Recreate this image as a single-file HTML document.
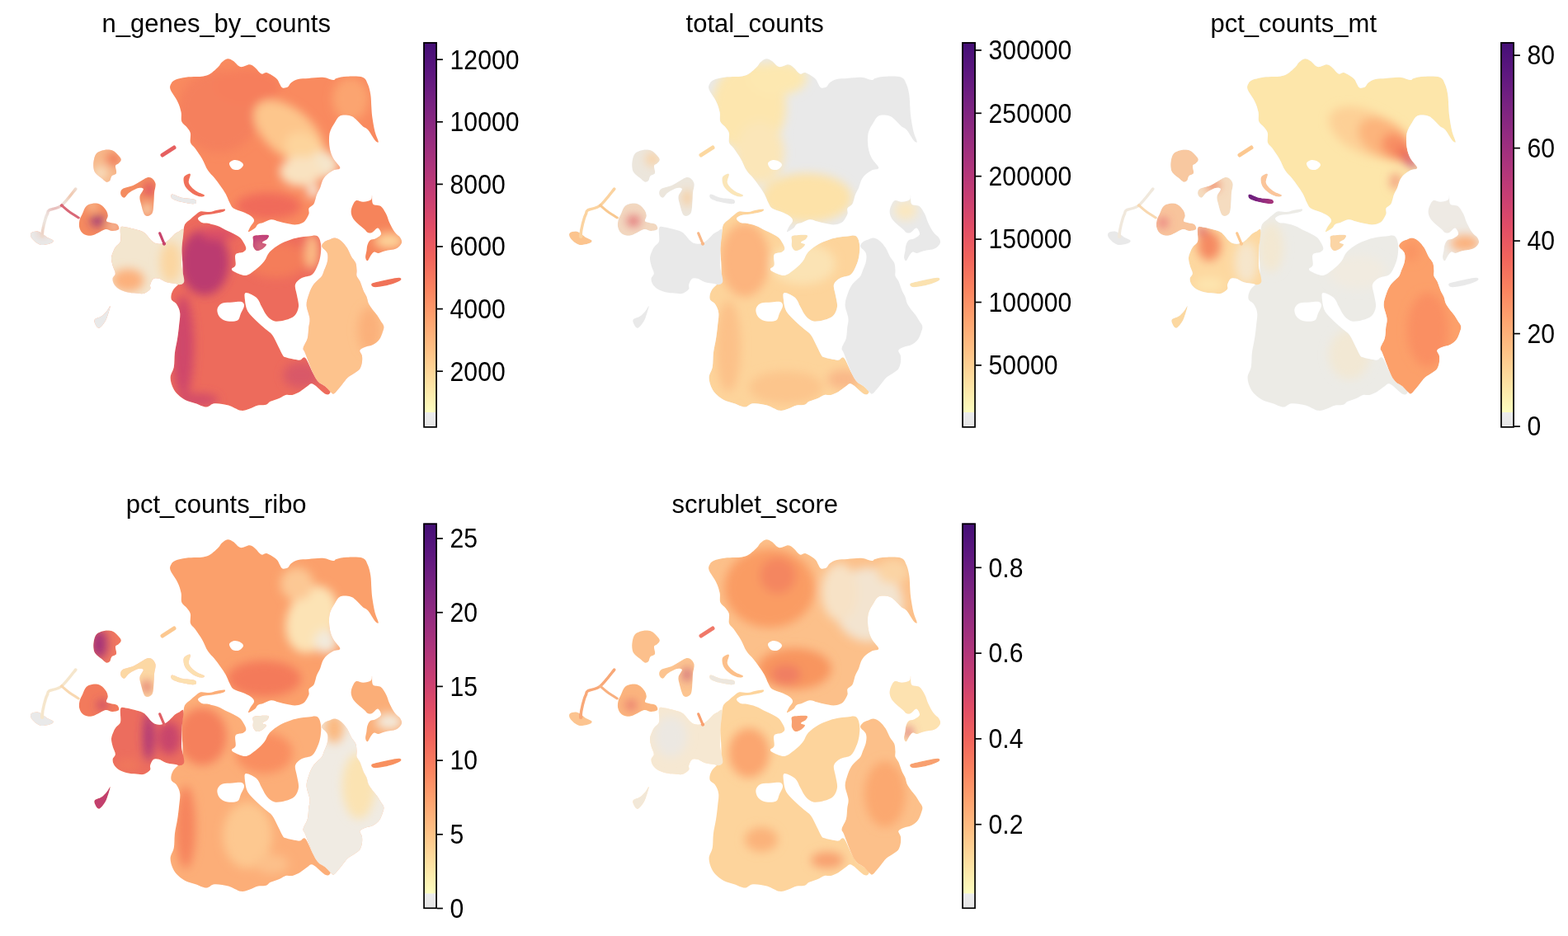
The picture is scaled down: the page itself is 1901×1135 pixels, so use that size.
<!DOCTYPE html><html><head><meta charset="utf-8"><style>html,body{margin:0;padding:0;background:#fff;width:1901px;height:1135px;overflow:hidden}svg{display:block}text{font-family:"Liberation Sans",Arial,sans-serif;fill:#000}</style></head><body>
<svg width="1901" height="1135" viewBox="0 0 1901 1135">
<defs>
<linearGradient id="cm" x1="0" y1="1" x2="0" y2="0"><stop offset="0.000" stop-color="#fcfdbf"/><stop offset="0.083" stop-color="#fde0a1"/><stop offset="0.167" stop-color="#fec185"/><stop offset="0.250" stop-color="#fea36f"/><stop offset="0.333" stop-color="#fb835f"/><stop offset="0.417" stop-color="#f2645c"/><stop offset="0.500" stop-color="#e24d66"/><stop offset="0.583" stop-color="#c83e73"/><stop offset="0.667" stop-color="#ad347c"/><stop offset="0.750" stop-color="#932b80"/><stop offset="0.833" stop-color="#782281"/><stop offset="0.917" stop-color="#5d177f"/><stop offset="1.000" stop-color="#440f76"/></linearGradient>
<linearGradient id="gr" x1="0" y1="1" x2="0" y2="0"><stop offset="0" stop-color="#e6e6e6"/><stop offset="1" stop-color="#ececec"/></linearGradient>
<path id="pT" d="M206.6,108.6 C205.3,104.9 206.6,103.2 207.6,101.2 C208.6,99.2 209.7,97.9 212.6,96.7 C215.5,95.5 221.0,94.4 225.2,93.8 C229.4,93.2 234.4,93.3 237.9,93.1 C241.4,92.9 243.6,93.0 246.4,92.4 C249.2,91.8 251.8,91.5 254.8,89.6 C257.9,87.7 262.4,83.4 264.7,81.1 C267.0,78.8 267.0,77.1 268.9,75.5 C270.8,73.9 273.6,71.5 276.0,71.3 C278.4,71.1 280.4,72.5 283.0,74.1 C285.6,75.7 288.2,80.4 291.5,81.1 C294.8,81.8 299.8,78.0 302.8,78.3 C305.9,78.5 307.5,80.7 309.8,82.6 C312.1,84.5 314.5,88.7 316.9,89.6 C319.2,90.5 320.8,87.3 323.9,88.2 C326.9,89.1 332.6,92.9 335.2,95.2 C337.8,97.5 338.2,100.4 339.4,102.3 C340.6,104.2 340.9,106.0 342.5,106.5 C344.1,107.0 347.1,106.5 348.8,105.5 C350.6,104.5 350.9,101.8 353.0,100.2 C355.1,98.6 358.0,96.9 361.5,96.0 C365.0,95.1 369.3,95.3 374.2,94.9 C379.1,94.5 386.2,93.5 391.1,93.8 C396.0,94.1 401.0,96.8 403.8,97.0 C406.6,97.2 405.2,95.6 408.0,94.9 C410.8,94.2 415.4,93.0 420.7,92.8 C426.0,92.6 435.5,92.2 439.7,93.8 C443.9,95.4 444.4,98.8 446.0,102.3 C447.6,105.8 448.6,110.4 449.3,115.0 C450.0,119.6 450.0,125.2 450.3,129.8 C450.6,134.4 450.7,137.6 451.4,142.5 C452.1,147.4 453.3,154.5 454.5,159.4 C455.7,164.3 458.8,170.2 458.8,172.0 C458.8,173.8 456.6,172.4 454.5,170.0 C452.4,167.6 448.5,160.1 446.0,157.3 C443.5,154.5 442.1,155.1 439.7,153.0 C437.2,150.9 433.8,146.7 431.3,144.6 C428.9,142.5 428.2,141.1 425.0,140.4 C421.8,139.7 415.5,139.0 412.3,140.4 C409.1,141.8 408.0,145.3 405.9,148.8 C403.8,152.3 400.7,156.6 399.6,161.5 C398.6,166.4 398.9,173.3 399.6,178.4 C400.3,183.5 401.9,187.8 404.0,192.0 C406.1,196.2 412.3,201.1 412.3,203.5 C412.3,205.9 406.7,205.1 404.0,206.5 C401.3,207.9 398.2,209.9 396.0,212.0 C393.8,214.1 392.3,216.3 391.0,219.0 C389.7,221.7 389.2,225.2 388.0,228.0 C386.8,230.8 385.0,233.5 384.0,236.0 C383.0,238.5 382.7,241.0 382.0,243.0 C381.3,245.0 381.2,246.4 380.0,248.0 C378.8,249.6 375.4,250.6 374.5,252.5 C373.6,254.4 375.2,256.8 374.5,259.3 C373.8,261.8 371.5,265.5 370.0,267.4 C368.5,269.3 367.5,269.9 365.4,270.8 C363.3,271.7 360.5,272.5 357.4,272.5 C354.3,272.5 350.2,271.5 347.0,270.8 C343.8,270.1 340.9,269.3 337.9,268.5 C334.8,267.7 331.8,266.0 328.7,266.2 C325.6,266.4 322.3,268.7 319.6,269.7 C316.9,270.7 314.4,270.9 312.7,272.0 C311.0,273.1 311.2,275.0 309.3,276.5 C307.4,278.0 302.2,281.4 301.2,281.1 C300.2,280.9 302.4,277.3 303.5,275.0 C304.6,272.7 308.1,269.6 308.1,267.4 C308.1,265.2 305.8,263.3 303.5,261.6 C301.2,259.9 297.8,258.5 294.4,257.0 C291.0,255.5 285.6,254.4 282.9,252.5 C280.2,250.6 279.8,248.5 278.3,245.6 C276.8,242.7 275.6,238.7 273.7,235.3 C271.8,231.9 269.2,228.2 266.9,225.0 C264.6,221.8 262.5,218.9 260.0,215.8 C257.5,212.7 254.5,210.5 252.0,206.6 C249.5,202.7 247.6,197.0 245.0,192.5 C242.4,188.0 238.8,183.1 236.5,179.8 C234.2,176.5 231.8,175.9 230.9,172.8 C230.0,169.8 231.6,164.6 230.9,161.5 C230.2,158.4 228.5,156.8 226.7,154.4 C224.9,152.1 221.5,150.5 220.3,147.4 C219.1,144.3 220.4,140.1 219.6,136.1 C218.8,132.1 217.6,128.0 215.4,123.4 C213.2,118.8 207.9,112.3 206.6,108.6Z"/><clipPath id="cT"><use href="#pT"/></clipPath><path id="pMB" d="M224.5,271.5 C225.9,269.1 228.6,267.7 230.7,265.9 C232.8,264.1 234.9,262.2 237.0,260.6 C239.1,259.0 240.6,256.9 243.4,256.3 C246.2,255.7 250.8,257.3 253.9,257.1 C257.0,256.9 259.1,255.6 262.0,255.0 C264.9,254.4 269.6,253.7 271.4,253.6 C273.2,253.5 273.2,253.9 273.0,254.5 C272.8,255.1 272.8,256.1 270.0,257.0 C267.2,257.9 260.0,259.1 256.0,259.8 C252.0,260.5 248.7,260.1 246.0,261.0 C243.3,261.9 240.2,263.5 240.0,265.0 C239.8,266.5 243.2,269.1 245.0,270.0 C246.8,270.9 247.6,270.0 250.7,270.6 C253.8,271.2 259.2,272.2 263.4,273.8 C267.6,275.4 271.9,278.0 276.1,280.1 C280.3,282.2 285.9,284.6 288.8,286.5 C291.7,288.4 292.0,288.8 293.6,291.2 C295.2,293.6 298.1,298.3 298.3,300.7 C298.6,303.1 297.2,304.2 295.1,305.5 C293.0,306.8 287.2,306.1 285.6,308.7 C284.0,311.3 286.4,318.5 285.6,321.4 C284.8,324.3 281.0,324.7 280.9,326.1 C280.8,327.5 282.1,328.7 285.0,330.0 C287.9,331.3 294.0,334.6 298.3,334.0 C302.6,333.4 307.3,329.0 311.0,326.1 C314.7,323.2 317.9,320.0 320.5,316.6 C323.1,313.2 323.7,308.9 326.9,305.5 C330.1,302.1 335.6,298.4 339.5,296.0 C343.4,293.6 346.9,292.5 350.6,291.2 C354.3,289.9 357.7,288.9 361.7,288.1 C365.7,287.3 370.5,286.8 374.4,286.5 C378.2,286.2 382.4,284.7 384.8,286.3 C387.2,287.9 388.4,292.1 389.0,296.0 C389.6,299.9 389.2,305.7 388.5,310.0 C387.8,314.3 386.7,318.2 385.0,322.0 C383.3,325.8 381.6,330.4 378.4,332.9 C375.2,335.4 369.4,335.0 366.0,337.0 C362.6,339.0 359.0,341.5 358.0,345.0 C357.0,348.5 359.3,353.5 360.0,358.0 C360.7,362.5 362.5,367.8 362.0,372.0 C361.5,376.2 359.7,380.3 357.0,383.0 C354.3,385.7 350.0,386.9 346.0,388.0 C342.0,389.1 336.7,390.3 333.0,389.5 C329.3,388.7 326.3,385.9 323.7,383.0 C321.1,380.1 319.5,376.0 317.4,372.3 C315.3,368.6 314.2,363.9 311.0,361.0 C307.8,358.1 300.3,354.5 298.0,355.0 C295.7,355.5 296.6,360.2 297.0,364.0 C297.4,367.8 298.1,373.4 300.4,377.6 C302.7,381.8 307.5,385.7 311.0,389.2 C314.5,392.7 318.4,395.9 321.6,398.7 C324.8,401.5 327.4,402.5 330.0,406.0 C332.6,409.5 335.3,415.8 337.4,419.9 C339.5,424.0 341.3,428.2 342.7,430.4 C344.1,432.6 343.6,432.2 345.5,433.0 C347.4,433.8 351.4,434.7 354.4,435.3 C357.4,435.9 361.0,436.8 363.6,436.6 C366.2,436.4 367.6,431.4 370.2,434.0 C372.8,436.6 376.9,447.7 379.5,452.5 C382.1,457.3 383.7,460.4 386.1,463.0 C388.5,465.6 391.6,466.3 394.0,468.3 C396.4,470.3 400.4,473.4 400.6,475.0 C400.8,476.6 398.5,479.6 395.0,478.0 C391.5,476.4 383.2,467.3 379.5,465.7 C375.8,464.1 375.4,466.8 372.8,468.3 C370.2,469.9 366.7,473.2 363.6,475.0 C360.5,476.8 357.3,478.2 354.4,478.9 C351.5,479.5 349.0,478.2 346.4,478.9 C343.8,479.6 341.6,481.6 338.5,482.9 C335.4,484.2 330.5,485.5 327.9,486.8 C325.2,488.1 325.1,490.0 322.6,490.8 C320.1,491.6 316.3,490.7 312.9,491.5 C309.5,492.3 305.8,494.6 302.3,495.7 C298.8,496.8 295.9,498.5 291.7,497.8 C287.5,497.1 282.3,492.9 277.0,491.5 C271.7,490.1 264.5,488.9 260.0,489.3 C255.5,489.7 253.8,493.6 250.0,493.6 C246.2,493.6 241.4,490.7 237.2,489.3 C232.9,487.9 228.0,486.8 224.5,485.0 C221.0,483.2 218.5,481.2 216.0,478.8 C213.5,476.4 211.3,473.8 209.7,470.3 C208.1,466.8 206.4,461.8 206.6,457.6 C206.8,453.4 209.9,449.9 210.8,445.0 C211.7,440.1 211.2,433.7 211.9,428.0 C212.6,422.3 214.1,416.6 215.0,411.0 C215.9,405.4 216.6,399.5 217.1,394.2 C217.6,388.9 218.7,383.6 218.2,379.4 C217.7,375.2 215.8,371.6 214.0,368.8 C212.2,366.0 208.3,365.3 207.6,362.5 C206.9,359.7 207.6,355.8 209.7,351.9 C211.8,348.0 218.4,344.1 220.3,339.2 C222.2,334.3 221.4,328.7 221.4,322.3 C221.4,315.9 220.1,308.1 220.3,301.0 C220.5,293.9 221.7,284.9 222.4,280.0 C223.1,275.1 223.1,273.9 224.5,271.5Z"/><clipPath id="cMB"><use href="#pMB"/></clipPath><path id="pRb" d="M392.9,293.7 C394.2,292.4 395.9,292.0 398.1,291.1 C400.3,290.2 403.5,288.2 406.1,288.4 C408.8,288.6 411.6,290.4 414.0,292.4 C416.4,294.4 418.6,297.2 420.6,300.3 C422.6,303.4 424.1,307.8 425.9,310.9 C427.7,314.0 430.1,315.9 431.2,318.8 C432.3,321.7 432.3,325.5 432.5,328.1 C432.7,330.8 431.8,332.5 432.5,334.7 C433.2,336.9 435.2,338.4 436.5,341.3 C437.8,344.2 439.1,348.8 440.4,351.9 C441.7,355.0 443.3,357.1 444.4,359.8 C445.5,362.5 445.5,365.3 446.8,368.0 C448.1,370.7 450.3,373.5 452.1,375.9 C453.9,378.3 455.8,380.3 457.4,382.5 C458.9,384.7 460.1,386.9 461.4,389.1 C462.7,391.3 464.9,393.5 465.3,395.7 C465.7,397.9 464.9,399.7 464.0,402.3 C463.1,404.9 462.0,408.9 460.0,411.5 C458.0,414.1 455.0,416.6 452.1,418.1 C449.2,419.7 445.5,419.7 442.9,420.8 C440.3,421.9 437.0,422.9 436.3,424.7 C435.6,426.4 438.5,428.9 438.9,431.3 C439.3,433.7 439.3,436.7 438.9,439.3 C438.5,441.9 437.8,445.0 436.3,447.2 C434.8,449.4 432.1,450.7 429.7,452.5 C427.3,454.3 424.1,455.6 421.7,457.8 C419.3,460.0 417.1,463.3 415.1,465.7 C413.1,468.1 411.6,470.3 409.8,472.3 C408.1,474.3 406.1,477.2 404.6,477.6 C403.1,478.1 402.4,476.6 400.6,475.0 C398.8,473.4 396.4,470.3 394.0,468.3 C391.6,466.3 388.5,465.6 386.1,463.0 C383.7,460.4 382.1,458.2 379.5,452.5 C376.9,446.8 372.2,433.8 370.2,428.7 C368.2,423.6 367.2,425.2 367.6,422.1 C368.0,419.0 371.7,414.4 372.8,410.2 C373.9,406.0 373.8,401.0 374.2,397.0 C374.6,393.0 375.9,390.9 375.5,386.4 C375.1,381.9 371.8,374.9 371.6,370.0 C371.4,365.1 373.3,360.9 374.4,357.2 C375.5,353.5 376.8,350.5 378.3,347.9 C379.8,345.2 381.6,343.5 383.6,341.3 C385.6,339.1 388.6,336.9 390.2,334.7 C391.8,332.5 391.8,331.0 392.9,328.1 C394.0,325.2 396.1,321.0 396.8,317.5 C397.5,314.0 397.9,310.0 396.8,306.9 C395.7,303.8 390.9,301.2 390.2,299.0 C389.5,296.8 391.6,295.0 392.9,293.7Z"/><clipPath id="cRb"><use href="#pRb"/></clipPath><path id="pR" d="M425.9,254.1 C426.6,250.8 428.8,245.1 431.2,243.5 C433.6,241.9 437.3,245.0 440.4,244.8 C443.5,244.6 447.9,243.5 449.7,242.2 C451.5,240.9 450.6,236.0 451.0,236.9 C451.4,237.8 450.5,245.3 452.3,247.5 C454.1,249.7 459.0,248.1 461.6,250.1 C464.2,252.1 466.4,256.1 468.2,259.4 C470.0,262.7 470.4,266.2 472.2,269.9 C474.0,273.6 476.6,278.7 478.8,281.8 C481.0,284.9 484.1,286.2 485.4,288.4 C486.7,290.6 487.6,292.8 486.7,295.0 C485.8,297.2 483.4,300.1 480.1,301.6 C476.8,303.2 470.4,303.4 466.9,304.3 C463.4,305.2 461.1,306.7 458.9,306.9 C456.7,307.1 455.2,305.2 453.7,305.6 C452.2,306.1 451.0,307.8 449.7,309.6 C448.4,311.4 446.8,315.8 445.7,316.2 C444.6,316.6 443.3,314.2 443.1,312.2 C442.9,310.2 444.0,306.8 444.4,304.3 C444.8,301.8 444.7,299.2 445.5,297.0 C446.3,294.8 447.4,292.2 449.0,291.0 C450.6,289.8 452.8,290.7 455.0,289.5 C457.2,288.3 461.5,286.2 462.0,284.0 C462.5,281.8 459.8,276.8 458.0,276.5 C456.2,276.2 453.0,281.1 451.0,282.0 C449.0,282.9 447.5,282.7 446.0,282.0 C444.5,281.3 443.8,279.7 441.8,277.9 C439.8,276.1 436.2,273.7 433.8,271.3 C431.4,268.9 428.5,266.2 427.2,263.3 C425.9,260.4 425.2,257.4 425.9,254.1Z"/><clipPath id="cR"><use href="#pR"/></clipPath><path id="pD" d="M450.5,344.0 C451.5,342.9 455.3,342.4 458.9,341.5 C462.5,340.6 468.0,339.3 472.2,338.5 C476.4,337.7 481.7,336.6 484.0,336.8 C486.3,337.0 487.0,338.4 486.0,339.5 C485.0,340.6 481.4,342.3 478.0,343.5 C474.6,344.7 469.7,346.1 465.5,346.8 C461.3,347.6 455.5,348.5 453.0,348.0 C450.5,347.5 449.5,345.1 450.5,344.0Z"/><clipPath id="cD"><use href="#pD"/></clipPath><path id="pG" d="M146.1,276.4 C147.2,273.6 149.8,275.2 152.5,275.4 C155.2,275.6 158.7,276.6 162.0,277.5 C165.3,278.4 169.9,279.5 172.6,280.7 C175.2,281.9 176.0,283.0 177.9,284.9 C179.8,286.8 182.1,290.5 184.2,292.3 C186.3,294.1 188.1,295.1 190.6,295.5 C193.1,295.9 196.5,295.3 199.0,294.4 C201.5,293.5 203.3,292.0 205.4,290.2 C207.5,288.4 209.8,285.4 211.7,283.8 C213.6,282.2 215.2,281.5 217.0,280.7 C218.8,279.9 221.8,275.6 222.4,279.0 C223.0,282.4 220.7,295.3 220.3,301.0 C219.9,306.7 220.2,309.6 220.2,313.4 C220.2,317.2 219.7,319.4 220.2,324.0 C220.7,328.6 223.7,337.4 223.3,340.9 C222.9,344.4 219.8,344.7 218.0,345.2 C216.2,345.7 214.9,344.5 212.8,344.1 C210.7,343.7 207.7,343.5 205.4,343.0 C203.1,342.5 201.1,341.8 199.0,340.9 C196.9,340.0 194.8,338.3 192.7,337.8 C190.6,337.3 188.1,336.6 186.3,337.8 C184.5,339.0 182.8,343.1 182.1,345.2 C181.4,347.3 183.3,348.6 182.1,350.4 C180.9,352.1 177.2,354.8 174.7,355.7 C172.2,356.6 170.3,355.9 167.3,355.7 C164.3,355.5 160.2,355.4 156.7,354.7 C153.2,354.0 149.1,353.1 146.1,351.5 C143.1,349.9 140.3,347.5 138.7,345.2 C137.1,342.9 136.4,340.1 136.6,337.8 C136.8,335.5 139.8,334.0 139.8,331.4 C139.8,328.8 137.4,325.1 136.6,321.9 C135.8,318.7 134.8,315.4 135.0,312.4 C135.2,309.4 136.7,306.2 137.7,303.9 C138.7,301.6 139.5,300.5 140.9,298.6 C142.3,296.7 145.2,296.0 146.1,292.3 C147.0,288.6 145.0,279.2 146.1,276.4Z"/><clipPath id="cG"><use href="#pG"/></clipPath><path id="pA" d="M117.0,186.0 C119.1,183.8 123.0,182.6 126.2,182.0 C129.4,181.4 133.4,181.3 136.5,182.6 C139.6,183.8 142.8,187.6 144.5,189.5 C146.2,191.4 147.0,192.5 146.8,194.0 C146.6,195.5 144.5,197.4 143.4,198.6 C142.3,199.8 140.4,199.1 140.0,201.0 C139.6,202.9 141.8,207.9 141.0,210.0 C140.2,212.1 136.7,211.9 135.4,213.5 C134.1,215.1 134.2,218.2 133.0,219.3 C131.8,220.5 130.2,221.0 128.5,220.4 C126.8,219.8 124.9,217.5 122.8,215.8 C120.7,214.1 117.5,211.9 116.0,210.0 C114.5,208.1 114.0,206.9 113.6,204.4 C113.2,201.9 113.0,198.3 113.6,195.2 C114.2,192.1 114.9,188.2 117.0,186.0Z"/><clipPath id="cA"><use href="#pA"/></clipPath><path id="pB2" d="M104.4,250.2 C106.5,248.1 109.6,247.1 112.5,246.7 C115.4,246.3 118.9,246.6 121.6,247.9 C124.3,249.2 127.0,252.5 128.5,254.8 C130.0,257.1 130.7,259.4 130.8,261.6 C130.9,263.8 128.5,266.6 129.0,268.0 C129.5,269.4 131.8,269.3 134.0,270.0 C136.2,270.7 140.3,270.7 142.0,272.0 C143.7,273.3 145.0,276.7 144.0,278.0 C143.0,279.3 138.7,280.0 136.0,280.0 C133.3,280.0 130.8,277.6 128.0,278.0 C125.2,278.4 122.3,280.9 119.3,282.2 C116.3,283.5 113.2,285.5 110.2,285.7 C107.2,285.9 103.3,284.9 101.0,283.4 C98.7,281.9 97.2,279.2 96.4,276.5 C95.6,273.8 95.8,270.3 96.4,267.4 C97.0,264.5 98.6,262.2 99.9,259.3 C101.2,256.4 102.3,252.3 104.4,250.2Z"/><clipPath id="cB2"><use href="#pB2"/></clipPath><path id="pL" d="M146.3,235.5 C146.0,233.8 145.9,230.9 148.4,229.2 C150.9,227.4 157.5,226.5 161.1,225.0 C164.7,223.5 167.2,221.6 170.0,220.0 C172.8,218.4 175.7,216.1 178.0,215.4 C180.3,214.7 182.2,214.8 184.0,216.0 C185.8,217.2 188.1,219.8 188.6,222.8 C189.1,225.8 187.3,230.5 187.0,234.0 C186.7,237.5 186.9,239.9 186.5,244.0 C186.1,248.1 186.2,256.0 184.4,258.8 C182.6,261.6 178.2,263.1 175.9,261.0 C173.6,258.9 171.7,249.9 170.6,246.0 C169.5,242.1 169.1,240.4 169.6,237.6 C170.1,234.8 174.1,230.8 173.8,229.2 C173.5,227.6 170.8,227.3 168.0,228.0 C165.2,228.7 159.8,231.5 156.9,233.4 C154.0,235.3 152.3,239.3 150.5,239.7 C148.7,240.0 146.7,237.2 146.3,235.5Z"/><clipPath id="cL"><use href="#pL"/></clipPath><path id="pArc" d="M225.6,212.3 C227.0,211.4 230.3,209.6 230.9,211.2 C231.5,212.8 227.9,218.7 229.0,222.0 C230.1,225.3 234.1,228.9 237.2,231.3 C240.3,233.7 246.7,235.4 247.8,236.6 C248.9,237.8 246.1,239.0 243.6,238.6 C241.1,238.2 236.2,236.5 233.0,234.4 C229.8,232.3 226.2,229.0 224.5,226.0 C222.8,223.0 222.3,218.8 222.5,216.5 C222.7,214.2 224.2,213.2 225.6,212.3Z"/><clipPath id="cArc"><use href="#pArc"/></clipPath><path id="pGD" d="M208.7,235.5 C210.6,235.3 215.7,238.6 220.3,239.7 C224.9,240.8 233.6,240.7 236.2,241.9 C238.8,243.1 238.7,246.6 236.0,247.1 C233.3,247.6 224.9,246.1 220.3,245.0 C215.8,243.9 210.6,242.3 208.7,240.7 C206.8,239.1 206.8,235.7 208.7,235.5Z"/><clipPath id="cGD"><use href="#pGD"/></clipPath><path id="pGB" d="M38.0,282.2 C39.5,281.0 44.0,280.0 47.2,281.0 C50.5,282.0 54.6,286.3 57.5,288.0 C60.4,289.7 63.7,290.3 64.4,291.4 C65.2,292.5 64.1,293.9 62.0,294.8 C59.9,295.8 54.6,297.1 51.8,297.1 C48.9,297.1 47.2,296.3 44.9,294.8 C42.6,293.3 39.1,290.1 38.0,288.0 C36.9,285.9 36.5,283.4 38.0,282.2Z"/><clipPath id="cGB"><use href="#pGB"/></clipPath><path id="pGS" d="M133.6,371.0 C133.2,370.6 131.2,375.2 129.4,377.3 C127.6,379.4 125.5,381.9 123.0,383.6 C120.5,385.4 115.6,385.9 114.6,387.8 C113.5,389.7 115.7,393.6 116.7,395.2 C117.8,396.8 119.1,398.3 120.9,397.4 C122.7,396.5 125.5,393.0 127.3,390.0 C129.1,387.0 130.4,382.6 131.5,379.4 C132.6,376.2 133.9,371.4 133.6,371.0Z"/><clipPath id="cGS"><use href="#pGS"/></clipPath><path id="pPB" d="M307.0,286.5 C308.3,285.3 311.9,285.2 315.0,285.0 C318.1,284.8 324.0,284.5 325.5,285.3 C327.0,286.1 325.2,288.6 324.0,290.0 C322.8,291.4 318.2,292.9 318.0,294.0 C317.8,295.1 323.0,295.2 323.0,296.5 C323.0,297.8 320.0,300.8 318.0,302.0 C316.0,303.2 312.8,304.5 311.0,304.0 C309.2,303.5 307.7,301.0 307.0,299.0 C306.3,297.0 307.0,294.1 307.0,292.0 C307.0,289.9 305.7,287.7 307.0,286.5Z"/><clipPath id="cPB"><use href="#pPB"/></clipPath><path id="lbr1" d="M91.8,229.0 C89.0,232.3 80.0,244.7 74.7,249.0 C69.4,253.3 62.7,253.1 59.8,254.8 C56.9,256.5 58.3,257.6 57.5,259.3 C56.7,261.0 56.2,261.8 55.2,265.0 C54.2,268.2 52.5,275.2 51.8,278.8 C51.1,282.4 51.3,285.5 51.2,286.8" fill="none" stroke-linecap="round" stroke-linejoin="round"/><path id="lbr2" d="M74.7,249.0 C76.1,250.2 79.6,253.5 83.0,256.0 C86.4,258.5 93.2,262.7 95.3,264.0" fill="none" stroke-linecap="round" stroke-linejoin="round"/><path id="ltd" d="M197.0,188.0 L211.0,179.0" fill="none" stroke-linecap="round" stroke-linejoin="round"/><path id="lpd" d="M193.7,282.8 L199.0,295.5" fill="none" stroke-linecap="round" stroke-linejoin="round"/><filter id="mb" filterUnits="userSpaceOnUse" x="0" y="0" width="653" height="583"><feGaussianBlur stdDeviation="0.7"/></filter><mask id="um" maskUnits="userSpaceOnUse" x="0" y="0" width="653" height="583"><g filter="url(#mb)"><use href="#pT" fill="#fff"/><use href="#pMB" fill="#fff"/><use href="#pRb" fill="#fff"/><use href="#pR" fill="#fff"/><use href="#pD" fill="#fff"/><use href="#pG" fill="#fff"/><use href="#pA" fill="#fff"/><use href="#pB2" fill="#fff"/><use href="#pL" fill="#fff"/><use href="#pArc" fill="#fff"/><use href="#pGD" fill="#fff"/><use href="#pGB" fill="#fff"/><use href="#pGS" fill="#fff"/><use href="#pPB" fill="#fff"/><use href="#lbr1" stroke="#fff" stroke-width="3.5"/><use href="#lbr2" stroke="#fff" stroke-width="3.0"/><use href="#ltd" stroke="#fff" stroke-width="5.0"/><use href="#lpd" stroke="#fff" stroke-width="3.2"/><path d="M264.0,373.0 C265.0,370.9 267.0,368.6 270.0,367.5 C273.0,366.4 278.2,366.8 282.0,366.5 C285.8,366.2 290.7,365.2 293.0,366.0 C295.3,366.8 296.2,368.7 296.0,371.0 C295.8,373.3 293.3,377.1 292.0,380.0 C290.7,382.9 290.7,386.9 288.0,388.5 C285.3,390.1 279.3,389.9 276.0,389.5 C272.7,389.1 270.0,387.6 268.0,386.0 C266.0,384.4 264.7,382.2 264.0,380.0 C263.3,377.8 263.0,375.1 264.0,373.0Z" fill="#000"/><path d="M278.0,198.0 C278.3,196.2 281.8,194.4 284.0,194.0 C286.2,193.6 289.2,194.5 291.0,195.5 C292.8,196.5 295.2,198.3 295.0,200.0 C294.8,201.7 292.2,204.7 290.0,205.5 C287.8,206.3 284.0,206.2 282.0,205.0 C280.0,203.8 277.7,199.8 278.0,198.0Z" fill="#000"/></g></mask><filter id="bl" filterUnits="userSpaceOnUse" x="-20" y="-20" width="700" height="620"><feGaussianBlur stdDeviation="6"/></filter>
</defs>
<g transform="translate(0.0,0.0)">
<g transform="translate(0,-0.0)"><g mask="url(#um)"><rect x="0" y="0" width="653" height="583" fill="#f98f62"/><use href="#pT" fill="#f98a5f"/><g clip-path="url(#cT)"><g filter="url(#bl)"><ellipse cx="265" cy="135" rx="50" ry="50" fill="#f5805d"/><ellipse cx="300" cy="105" rx="40" ry="22" fill="#f67e5c"/><ellipse cx="425" cy="120" rx="22" ry="26" fill="#fba470"/><ellipse cx="350" cy="160" rx="50" ry="28" fill="#fdc68c" transform="rotate(40 350 160)"/><ellipse cx="372" cy="185" rx="30" ry="20" fill="#fdd49c" transform="rotate(40 372 185)"/><ellipse cx="392" cy="200" rx="18" ry="16" fill="#f5e6cc"/><ellipse cx="365" cy="208" rx="26" ry="18" fill="#f9e2c0"/><ellipse cx="380" cy="232" rx="8" ry="8" fill="#f6e8d6"/><ellipse cx="325" cy="250" rx="40" ry="16" fill="#f06b5a"/></g></g><use href="#pMB" fill="#ed6b5c"/><g clip-path="url(#cMB)"><g filter="url(#bl)"><ellipse cx="248" cy="318" rx="30" ry="40" fill="#bb3b70"/><ellipse cx="265" cy="283" rx="22" ry="8" fill="#dc5066"/><ellipse cx="222" cy="420" rx="13" ry="62" fill="#cf466a"/><ellipse cx="240" cy="485" rx="25" ry="8" fill="#d24c69"/><ellipse cx="335" cy="315" rx="38" ry="22" fill="#f47d5a"/><ellipse cx="378" cy="305" rx="8" ry="22" fill="#fcc088"/><ellipse cx="365" cy="455" rx="22" ry="16" fill="#d95868"/></g></g><use href="#pRb" fill="#fdc38d"/><g clip-path="url(#cRb)"><g filter="url(#bl)"><ellipse cx="448" cy="400" rx="14" ry="28" fill="#fbb07a"/></g></g><use href="#pR" fill="#f6845b"/><g clip-path="url(#cR)"><g filter="url(#bl)"><ellipse cx="472" cy="292" rx="18" ry="10" fill="#fdd39a"/></g></g><use href="#pD" fill="#f07258"/><use href="#pG" fill="#f3e6cf"/><g clip-path="url(#cG)"><g filter="url(#bl)"><ellipse cx="155" cy="340" rx="20" ry="14" fill="#fcb07c"/><ellipse cx="207" cy="318" rx="13" ry="25" fill="#fbd6a0"/></g></g><use href="#pA" fill="#f7b88a"/><g clip-path="url(#cA)"><g filter="url(#bl)"><ellipse cx="138" cy="193" rx="9" ry="9" fill="#f07a58"/><ellipse cx="122" cy="210" rx="9" ry="8" fill="#f8e2c4"/></g></g><use href="#pB2" fill="#f58a5f"/><g clip-path="url(#cB2)"><g filter="url(#bl)"><ellipse cx="118" cy="268" rx="8" ry="6" fill="#8a2a80"/><ellipse cx="112" cy="250" rx="8" ry="4" fill="#fbd8a8"/><ellipse cx="138" cy="275" rx="6" ry="5" fill="#f4e6d2"/></g></g><use href="#pL" fill="#f48c60"/><g clip-path="url(#cL)"><g filter="url(#bl)"><ellipse cx="181" cy="230" rx="6" ry="9" fill="#dc4e62"/><ellipse cx="178" cy="254" rx="7" ry="7" fill="#f8e2c0"/></g></g><use href="#pArc" fill="#f0705a"/><use href="#pGD" fill="#e9e9e9"/><use href="#pGB" fill="#e9e9e9"/><use href="#pGS" fill="#e9e9e9"/><use href="#pPB" fill="#c0407a"/><g clip-path="url(#cPB)"><g filter="url(#bl)"><ellipse cx="316" cy="299" rx="6" ry="4" fill="#fcb884"/></g></g><use href="#lbr1" stroke="#ece6e0" stroke-width="4.5"/><use href="#lbr2" stroke="#d86878" stroke-width="4.0"/><use href="#ltd" stroke="#e66060" stroke-width="6.0"/><use href="#lpd" stroke="#c8446c" stroke-width="4.2"/><g filter="url(#bl)"><ellipse cx="86" cy="236" rx="5" ry="7" fill="#f8a070"/><ellipse cx="66" cy="252" rx="6" ry="4" fill="#e06068"/><ellipse cx="52" cy="281" rx="3" ry="5" fill="#f08a60"/></g></g></g>
<text x="262.2" y="38.9" font-size="31" text-anchor="middle">n_genes_by_counts</text>
<rect x="513.2" y="499.7" width="16.699999999999932" height="19.000000000000057" fill="url(#gr)"/>
<rect x="513.2" y="51.1" width="16.699999999999932" height="448.9" fill="url(#cm)"/>
<rect x="514.0500000000001" y="51.95" width="14.999999999999932" height="465.90000000000003" fill="none" stroke="#000" stroke-width="1.7"/>
<line x1="529.9" y1="450.2" x2="536.9" y2="450.2" stroke="#000" stroke-width="1.7"/>
<text x="0" y="0" font-size="32.8" transform="translate(545.6,461.5) scale(0.92,1)">2000</text>
<line x1="529.9" y1="374.6" x2="536.9" y2="374.6" stroke="#000" stroke-width="1.7"/>
<text x="0" y="0" font-size="32.8" transform="translate(545.6,385.9) scale(0.92,1)">4000</text>
<line x1="529.9" y1="299.0" x2="536.9" y2="299.0" stroke="#000" stroke-width="1.7"/>
<text x="0" y="0" font-size="32.8" transform="translate(545.6,310.3) scale(0.92,1)">6000</text>
<line x1="529.9" y1="223.4" x2="536.9" y2="223.4" stroke="#000" stroke-width="1.7"/>
<text x="0" y="0" font-size="32.8" transform="translate(545.6,234.7) scale(0.92,1)">8000</text>
<line x1="529.9" y1="147.8" x2="536.9" y2="147.8" stroke="#000" stroke-width="1.7"/>
<text x="0" y="0" font-size="32.8" transform="translate(545.6,159.1) scale(0.92,1)">10000</text>
<line x1="529.9" y1="72.2" x2="536.9" y2="72.2" stroke="#000" stroke-width="1.7"/>
<text x="0" y="0" font-size="32.8" transform="translate(545.6,83.5) scale(0.92,1)">12000</text>
</g>
<g transform="translate(653.0,0.0)">
<g transform="translate(0,-0.0)"><g mask="url(#um)"><rect x="0" y="0" width="653" height="583" fill="#e9e9e9"/><use href="#pT" fill="#e9e9e9"/><g clip-path="url(#cT)"><g filter="url(#bl)"><ellipse cx="255" cy="130" rx="45" ry="55" fill="#fde6ae"/><ellipse cx="290" cy="95" rx="35" ry="20" fill="#fde8b0"/><ellipse cx="268" cy="185" rx="30" ry="38" fill="#fbe6b8"/><ellipse cx="325" cy="240" rx="55" ry="30" fill="#fde2a8"/><ellipse cx="450" cy="262" rx="20" ry="15" fill="#fbe6bc"/></g></g><use href="#pMB" fill="#fdd49b"/><g clip-path="url(#cMB)"><g filter="url(#bl)"><ellipse cx="250" cy="315" rx="30" ry="45" fill="#fcb47e"/><ellipse cx="230" cy="420" rx="15" ry="55" fill="#fcc189"/><ellipse cx="320" cy="320" rx="40" ry="25" fill="#fbe3b4"/><ellipse cx="300" cy="470" rx="45" ry="20" fill="#fcc58c"/><ellipse cx="370" cy="460" rx="20" ry="12" fill="#f9b888"/></g></g><use href="#pRb" fill="#e9e9e9"/><use href="#pR" fill="#e9e9e9"/><g clip-path="url(#cR)"><g filter="url(#bl)"><ellipse cx="445" cy="255" rx="14" ry="12" fill="#fbe8c0"/></g></g><use href="#pD" fill="#fbe2b0"/><use href="#pG" fill="#e9e9e9"/><use href="#pA" fill="#ece6dc"/><g clip-path="url(#cA)"><g filter="url(#bl)"><ellipse cx="138" cy="193" rx="8" ry="8" fill="#fbd0a0"/></g></g><use href="#pB2" fill="#f2d8c0"/><g clip-path="url(#cB2)"><g filter="url(#bl)"><ellipse cx="115" cy="268" rx="8" ry="6" fill="#e06068"/></g></g><use href="#pL" fill="#ece6dc"/><g clip-path="url(#cL)"><g filter="url(#bl)"><ellipse cx="180" cy="240" rx="5" ry="10" fill="#fbc890"/></g></g><use href="#pArc" fill="#fbe6b8"/><use href="#pGD" fill="#e9e9e9"/><use href="#pGB" fill="#fcc48e"/><use href="#pGS" fill="#e9e9e9"/><use href="#pPB" fill="#fbe0b0"/><use href="#lbr1" stroke="#fbd3a0" stroke-width="4.5"/><use href="#lbr2" stroke="#f8c890" stroke-width="4.0"/><use href="#ltd" stroke="#fcd8a0" stroke-width="6.0"/><use href="#lpd" stroke="#f8b888" stroke-width="4.2"/></g></g>
<text x="262.2" y="38.9" font-size="31" text-anchor="middle">total_counts</text>
<rect x="513.2" y="499.7" width="16.699999999999932" height="19.000000000000057" fill="url(#gr)"/>
<rect x="513.2" y="51.1" width="16.699999999999932" height="448.9" fill="url(#cm)"/>
<rect x="514.0500000000001" y="51.95" width="14.999999999999932" height="465.90000000000003" fill="none" stroke="#000" stroke-width="1.7"/>
<line x1="529.9" y1="442.9" x2="536.9" y2="442.9" stroke="#000" stroke-width="1.7"/>
<text x="0" y="0" font-size="32.8" transform="translate(545.6,454.2) scale(0.92,1)">50000</text>
<line x1="529.9" y1="366.5" x2="536.9" y2="366.5" stroke="#000" stroke-width="1.7"/>
<text x="0" y="0" font-size="32.8" transform="translate(545.6,377.8) scale(0.92,1)">100000</text>
<line x1="529.9" y1="290.1" x2="536.9" y2="290.1" stroke="#000" stroke-width="1.7"/>
<text x="0" y="0" font-size="32.8" transform="translate(545.6,301.4) scale(0.92,1)">150000</text>
<line x1="529.9" y1="213.7" x2="536.9" y2="213.7" stroke="#000" stroke-width="1.7"/>
<text x="0" y="0" font-size="32.8" transform="translate(545.6,225.0) scale(0.92,1)">200000</text>
<line x1="529.9" y1="137.3" x2="536.9" y2="137.3" stroke="#000" stroke-width="1.7"/>
<text x="0" y="0" font-size="32.8" transform="translate(545.6,148.6) scale(0.92,1)">250000</text>
<line x1="529.9" y1="60.9" x2="536.9" y2="60.9" stroke="#000" stroke-width="1.7"/>
<text x="0" y="0" font-size="32.8" transform="translate(545.6,72.2) scale(0.92,1)">300000</text>
</g>
<g transform="translate(1306.0,0.0)">
<g transform="translate(0,-0.0)"><g mask="url(#um)"><rect x="0" y="0" width="653" height="583" fill="#e9e9e9"/><use href="#pT" fill="#fde6aa"/><g clip-path="url(#cT)"><g filter="url(#bl)"><ellipse cx="350" cy="160" rx="48" ry="26" fill="#fdd096" transform="rotate(25 350 160)"/><ellipse cx="372" cy="168" rx="34" ry="22" fill="#fcb47c" transform="rotate(30 372 168)"/><ellipse cx="388" cy="178" rx="20" ry="15" fill="#f88e64" transform="rotate(30 388 178)"/><ellipse cx="396" cy="186" rx="10" ry="9" fill="#f07458"/><ellipse cx="403" cy="194" rx="7" ry="6" fill="#d24c6a"/><ellipse cx="409" cy="201" rx="4" ry="3" fill="#9a2d7e"/><ellipse cx="386" cy="220" rx="7" ry="10" fill="#f3a080"/></g></g><use href="#pMB" fill="#ecebe6"/><g clip-path="url(#cMB)"><g filter="url(#bl)"><ellipse cx="235" cy="300" rx="15" ry="30" fill="#f3e8d2"/><ellipse cx="340" cy="330" rx="35" ry="20" fill="#f1ebe0"/><ellipse cx="330" cy="430" rx="25" ry="30" fill="#f2e8d4"/></g></g><use href="#pRb" fill="#fca06a"/><g clip-path="url(#cRb)"><g filter="url(#bl)"><ellipse cx="425" cy="400" rx="25" ry="45" fill="#fa8f62"/><ellipse cx="405" cy="305" rx="10" ry="12" fill="#fa9464"/></g></g><use href="#pR" fill="#eeeae4"/><g clip-path="url(#cR)"><g filter="url(#bl)"><ellipse cx="470" cy="295" rx="18" ry="10" fill="#fcb07a"/></g></g><use href="#pD" fill="#e9e9e9"/><use href="#pG" fill="#fdd8a0"/><g clip-path="url(#cG)"><g filter="url(#bl)"><ellipse cx="160" cy="298" rx="14" ry="18" fill="#f58a62"/><ellipse cx="151" cy="280" rx="6" ry="5" fill="#d24c6a"/><ellipse cx="160" cy="345" rx="18" ry="8" fill="#fde6b0"/><ellipse cx="205" cy="318" rx="14" ry="26" fill="#f6e6cc"/></g></g><use href="#pA" fill="#f8c8a0"/><use href="#pB2" fill="#f8c49c"/><g clip-path="url(#cB2)"><g filter="url(#bl)"><ellipse cx="104" cy="270" rx="5" ry="5" fill="#e0506a"/></g></g><use href="#pL" fill="#f5dcc0"/><g clip-path="url(#cL)"><g filter="url(#bl)"><ellipse cx="165" cy="225" rx="8" ry="6" fill="#f07a58"/></g></g><use href="#pArc" fill="#fbc59a"/><use href="#pGB" fill="#e9e9e9"/><use href="#pGS" fill="#fcd8a0"/><use href="#pGD" fill="#8c2981"/><g clip-path="url(#cGD)"><g filter="url(#bl)"><ellipse cx="212" cy="237" rx="8" ry="6" fill="#4f1379"/><ellipse cx="236" cy="244" rx="6" ry="6" fill="#c8426e"/></g></g><use href="#pPB" fill="#fbd5a5"/><use href="#lbr1" stroke="#f0e8dc" stroke-width="4.5"/><use href="#lbr2" stroke="#f8d8b0" stroke-width="4.0"/><use href="#ltd" stroke="#fcc890" stroke-width="6.0"/><use href="#lpd" stroke="#fcc890" stroke-width="4.2"/></g></g>
<text x="262.2" y="38.9" font-size="31" text-anchor="middle">pct_counts_mt</text>
<rect x="513.2" y="499.7" width="16.699999999999932" height="19.000000000000057" fill="url(#gr)"/>
<rect x="513.2" y="51.1" width="16.699999999999932" height="448.9" fill="url(#cm)"/>
<rect x="514.0500000000001" y="51.95" width="14.999999999999932" height="465.90000000000003" fill="none" stroke="#000" stroke-width="1.7"/>
<line x1="529.9" y1="517.1" x2="536.9" y2="517.1" stroke="#000" stroke-width="1.7"/>
<text x="0" y="0" font-size="32.8" transform="translate(545.6,528.4) scale(0.92,1)">0</text>
<line x1="529.9" y1="404.6" x2="536.9" y2="404.6" stroke="#000" stroke-width="1.7"/>
<text x="0" y="0" font-size="32.8" transform="translate(545.6,415.9) scale(0.92,1)">20</text>
<line x1="529.9" y1="292.1" x2="536.9" y2="292.1" stroke="#000" stroke-width="1.7"/>
<text x="0" y="0" font-size="32.8" transform="translate(545.6,303.4) scale(0.92,1)">40</text>
<line x1="529.9" y1="179.6" x2="536.9" y2="179.6" stroke="#000" stroke-width="1.7"/>
<text x="0" y="0" font-size="32.8" transform="translate(545.6,190.9) scale(0.92,1)">60</text>
<line x1="529.9" y1="67.1" x2="536.9" y2="67.1" stroke="#000" stroke-width="1.7"/>
<text x="0" y="0" font-size="32.8" transform="translate(545.6,78.4) scale(0.92,1)">80</text>
</g>
<g transform="translate(0.0,583.4)">
<g transform="translate(0,-0.4)"><g mask="url(#um)"><rect x="0" y="0" width="653" height="583" fill="#fca46c"/><use href="#pT" fill="#fba06b"/><g clip-path="url(#cT)"><g filter="url(#bl)"><ellipse cx="320" cy="240" rx="45" ry="22" fill="#f47a5a"/><ellipse cx="378" cy="168" rx="30" ry="42" fill="#fce3b5" transform="rotate(20 378 168)"/><ellipse cx="395" cy="195" rx="14" ry="14" fill="#f2eadc"/><ellipse cx="360" cy="125" rx="20" ry="20" fill="#fcc894"/></g></g><use href="#pMB" fill="#fcae78"/><g clip-path="url(#cMB)"><g filter="url(#bl)"><ellipse cx="245" cy="310" rx="30" ry="35" fill="#f5805c"/><ellipse cx="225" cy="420" rx="12" ry="50" fill="#f6845d"/><ellipse cx="320" cy="330" rx="35" ry="25" fill="#f98e60"/><ellipse cx="300" cy="430" rx="30" ry="40" fill="#fdc890"/><ellipse cx="330" cy="465" rx="20" ry="12" fill="#fcc08a"/></g></g><use href="#pRb" fill="#f0ebe3"/><g clip-path="url(#cRb)"><g filter="url(#bl)"><ellipse cx="435" cy="370" rx="20" ry="40" fill="#fbe3b2"/><ellipse cx="405" cy="300" rx="12" ry="18" fill="#fbb981"/></g></g><use href="#pR" fill="#fbae78"/><g clip-path="url(#cR)"><g filter="url(#bl)"><ellipse cx="472" cy="292" rx="16" ry="10" fill="#f3eadc"/></g></g><use href="#pD" fill="#f8905f"/><use href="#pG" fill="#ec6d5e"/><g clip-path="url(#cG)"><g filter="url(#bl)"><ellipse cx="180" cy="310" rx="6" ry="30" fill="#a8337a"/><ellipse cx="205" cy="312" rx="14" ry="20" fill="#c8446c"/><ellipse cx="155" cy="345" rx="15" ry="8" fill="#f0785c"/></g></g><use href="#pA" fill="#f07860"/><g clip-path="url(#cA)"><g filter="url(#bl)"><ellipse cx="120" cy="198" rx="10" ry="18" fill="#a43078"/></g></g><use href="#pB2" fill="#f27a5c"/><g clip-path="url(#cB2)"><g filter="url(#bl)"><ellipse cx="124" cy="272" rx="6" ry="6" fill="#c0406c"/></g></g><use href="#pL" fill="#fcd8a4"/><g clip-path="url(#cL)"><g filter="url(#bl)"><ellipse cx="178" cy="250" rx="6" ry="8" fill="#e07068"/></g></g><use href="#pArc" fill="#fce0b0"/><use href="#pGD" fill="#fce0b0"/><use href="#pGB" fill="#e9e9e9"/><use href="#pGS" fill="#c2406e"/><use href="#pPB" fill="#f2e8d8"/><use href="#lbr1" stroke="#f5e6cc" stroke-width="4.5"/><use href="#lbr2" stroke="#f8d8b0" stroke-width="4.0"/><use href="#ltd" stroke="#fcc890" stroke-width="6.0"/><use href="#lpd" stroke="#e06066" stroke-width="4.2"/></g></g>
<text x="262.2" y="38.9" font-size="31" text-anchor="middle">pct_counts_ribo</text>
<rect x="513.2" y="499.7" width="16.699999999999932" height="19.000000000000057" fill="url(#gr)"/>
<rect x="513.2" y="51.1" width="16.699999999999932" height="448.9" fill="url(#cm)"/>
<rect x="514.0500000000001" y="51.95" width="14.999999999999932" height="465.90000000000003" fill="none" stroke="#000" stroke-width="1.7"/>
<line x1="529.9" y1="518.1" x2="536.9" y2="518.1" stroke="#000" stroke-width="1.7"/>
<text x="0" y="0" font-size="32.8" transform="translate(545.6,529.4) scale(0.92,1)">0</text>
<line x1="529.9" y1="428.4" x2="536.9" y2="428.4" stroke="#000" stroke-width="1.7"/>
<text x="0" y="0" font-size="32.8" transform="translate(545.6,439.7) scale(0.92,1)">5</text>
<line x1="529.9" y1="338.70000000000005" x2="536.9" y2="338.70000000000005" stroke="#000" stroke-width="1.7"/>
<text x="0" y="0" font-size="32.8" transform="translate(545.6,350.0) scale(0.92,1)">10</text>
<line x1="529.9" y1="249.0" x2="536.9" y2="249.0" stroke="#000" stroke-width="1.7"/>
<text x="0" y="0" font-size="32.8" transform="translate(545.6,260.3) scale(0.92,1)">15</text>
<line x1="529.9" y1="159.30000000000007" x2="536.9" y2="159.30000000000007" stroke="#000" stroke-width="1.7"/>
<text x="0" y="0" font-size="32.8" transform="translate(545.6,170.6) scale(0.92,1)">20</text>
<line x1="529.9" y1="69.60000000000002" x2="536.9" y2="69.60000000000002" stroke="#000" stroke-width="1.7"/>
<text x="0" y="0" font-size="32.8" transform="translate(545.6,80.9) scale(0.92,1)">25</text>
</g>
<g transform="translate(653.0,583.4)">
<g transform="translate(0,-0.4)"><g mask="url(#um)"><rect x="0" y="0" width="653" height="583" fill="#fdcf95"/><use href="#pT" fill="#fcc08a"/><g clip-path="url(#cT)"><g filter="url(#bl)"><ellipse cx="280" cy="130" rx="55" ry="48" fill="#fa9c64"/><ellipse cx="290" cy="115" rx="22" ry="22" fill="#f48660"/><ellipse cx="310" cy="228" rx="45" ry="25" fill="#f8955f"/><ellipse cx="300" cy="235" rx="18" ry="12" fill="#f07e62"/><ellipse cx="400" cy="150" rx="42" ry="45" fill="#f3e4d0"/><ellipse cx="365" cy="135" rx="22" ry="35" fill="#f7e2c6"/><ellipse cx="430" cy="110" rx="20" ry="15" fill="#fbd4a4"/></g></g><use href="#pMB" fill="#fdd49c"/><g clip-path="url(#cMB)"><g filter="url(#bl)"><ellipse cx="255" cy="330" rx="25" ry="30" fill="#fba670"/><ellipse cx="270" cy="435" rx="20" ry="15" fill="#fbb27a"/><ellipse cx="350" cy="460" rx="20" ry="10" fill="#f8a070"/></g></g><use href="#pRb" fill="#fcc08a"/><g clip-path="url(#cRb)"><g filter="url(#bl)"><ellipse cx="420" cy="380" rx="25" ry="40" fill="#fba870"/></g></g><use href="#pR" fill="#fde2b0"/><g clip-path="url(#cR)"><g filter="url(#bl)"><ellipse cx="448" cy="305" rx="5" ry="6" fill="#d04a6a"/></g></g><use href="#pD" fill="#f8a070"/><use href="#pG" fill="#f6e8d2"/><g clip-path="url(#cG)"><g filter="url(#bl)"><ellipse cx="160" cy="310" rx="20" ry="25" fill="#ece8e2"/></g></g><use href="#pA" fill="#fcc08c"/><use href="#pB2" fill="#fbb47e"/><g clip-path="url(#cB2)"><g filter="url(#bl)"><ellipse cx="112" cy="272" rx="6" ry="5" fill="#e06068"/></g></g><use href="#pL" fill="#fcc490"/><g clip-path="url(#cL)"><g filter="url(#bl)"><ellipse cx="180" cy="235" rx="4" ry="8" fill="#b8406e"/></g></g><use href="#pArc" fill="#fcbf8a"/><use href="#pGD" fill="#ede7de"/><use href="#pGB" fill="#fcc490"/><use href="#pGS" fill="#f2e8d8"/><use href="#pPB" fill="#f8a070"/><use href="#lbr1" stroke="#f8a878" stroke-width="4.5"/><use href="#lbr2" stroke="#f8b080" stroke-width="4.0"/><use href="#ltd" stroke="#f07868" stroke-width="6.0"/><use href="#lpd" stroke="#f8a070" stroke-width="4.2"/></g></g>
<text x="262.2" y="38.9" font-size="31" text-anchor="middle">scrublet_score</text>
<rect x="513.2" y="499.7" width="16.699999999999932" height="19.000000000000057" fill="url(#gr)"/>
<rect x="513.2" y="51.1" width="16.699999999999932" height="448.9" fill="url(#cm)"/>
<rect x="514.0500000000001" y="51.95" width="14.999999999999932" height="465.90000000000003" fill="none" stroke="#000" stroke-width="1.7"/>
<line x1="529.9" y1="416.30000000000007" x2="536.9" y2="416.30000000000007" stroke="#000" stroke-width="1.7"/>
<text x="0" y="0" font-size="32.8" transform="translate(545.6,427.6) scale(0.92,1)">0.2</text>
<line x1="529.9" y1="312.5" x2="536.9" y2="312.5" stroke="#000" stroke-width="1.7"/>
<text x="0" y="0" font-size="32.8" transform="translate(545.6,323.8) scale(0.92,1)">0.4</text>
<line x1="529.9" y1="208.70000000000005" x2="536.9" y2="208.70000000000005" stroke="#000" stroke-width="1.7"/>
<text x="0" y="0" font-size="32.8" transform="translate(545.6,220.0) scale(0.92,1)">0.6</text>
<line x1="529.9" y1="104.89999999999998" x2="536.9" y2="104.89999999999998" stroke="#000" stroke-width="1.7"/>
<text x="0" y="0" font-size="32.8" transform="translate(545.6,116.2) scale(0.92,1)">0.8</text>
</g>
</svg></body></html>
